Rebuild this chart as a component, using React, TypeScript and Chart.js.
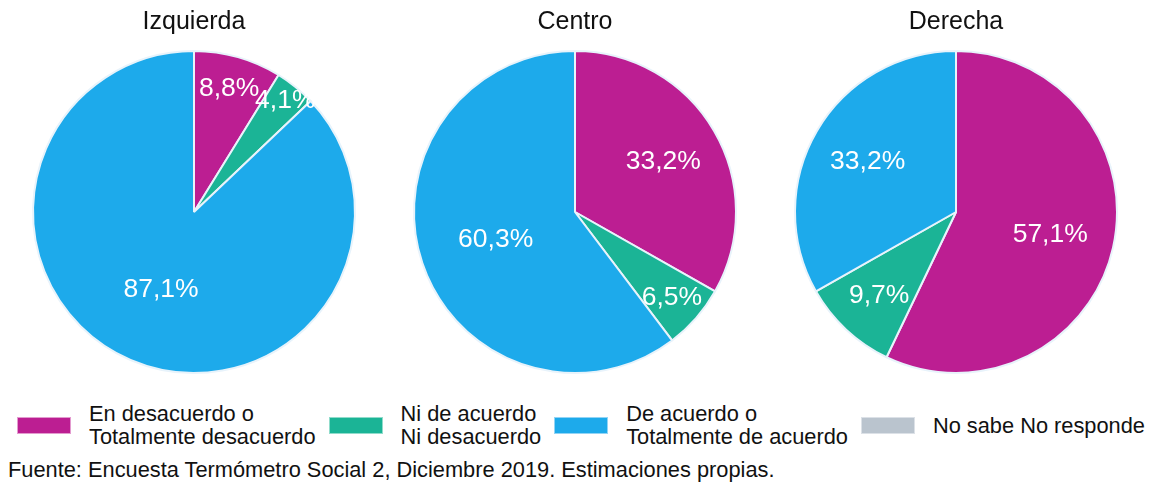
import React, { useEffect, useRef } from "react";
import { Chart, registerables } from "chart.js";

Chart.register(...registerables);

// ---- data ----
const groups = ["Izquierda", "Centro", "Derecha"];
const categoryLines: string[][] = [
  ["En desacuerdo o", "Totalmente desacuerdo"],
  ["Ni de acuerdo", "Ni desacuerdo"],
  ["De acuerdo o", "Totalmente de acuerdo"],
  ["No sabe No responde"],
];
const izquierdaValues = [8.8, 4.1, 87.1, 0];
const centroValues = [33.2, 6.5, 60.3, 0];
const derechaValues = [57.1, 9.7, 33.2, 0];
const seriesValues = [izquierdaValues, centroValues, derechaValues];
const colors = ["#BC1E92", "#1BB496", "#1DAAEB", "#BAC4CE"];
const legendBorders = ["#E39BCF", "#90DCCB", "#92D4F5", "#DCE1E7"];
const sourceText =
  "Fuente: Encuesta Termómetro Social 2, Diciembre 2019. Estimaciones propias.";

const FONT = '"Liberation Sans", Arial, sans-serif';

function radialFraction(p: number): number {
  if (p < 0.05) return 0.9;
  if (p < 0.09) return 0.8;
  if (p < 0.15) return 0.7;
  if (p < 0.45) return 0.635;
  if (p < 0.58) return 0.6;
  return 0.52;
}

const sliceLabels = {
  id: "sliceLabels",
  afterDatasetsDraw(chart: any) {
    const ctx = chart.ctx as CanvasRenderingContext2D;
    const meta = chart.getDatasetMeta(0);
    const data = chart.data.datasets[0].data as number[];
    const total = data.reduce((a, b) => a + b, 0);
    ctx.save();
    ctx.font = `26.5px ${FONT}`;
    ctx.fillStyle = "#ffffff";
    ctx.textAlign = "center";
    ctx.textBaseline = "middle";
    meta.data.forEach((arc: any, i: number) => {
      const v = data[i];
      if (!v) return;
      const { x, y, startAngle, endAngle, outerRadius } = arc.getProps(
        ["x", "y", "startAngle", "endAngle", "outerRadius"],
        true
      );
      const mid = (startAngle + endAngle) / 2;
      const r = outerRadius * radialFraction(v / total);
      const txt = v.toFixed(1).replace(".", ",") + "%";
      ctx.fillText(txt, x + Math.cos(mid) * r, y + Math.sin(mid) * r + 1);
    });
    ctx.restore();
  },
};

function PieCanvas({ title, values, left }: { title: string; values: number[]; left: number }) {
  const ref = useRef<HTMLCanvasElement | null>(null);
  useEffect(() => {
    if (!ref.current) return;
    const chart = new Chart(ref.current, {
      type: "pie",
      data: {
        labels: categoryLines.map((l) => l.join(" ")),
        datasets: [
          {
            data: values,
            backgroundColor: colors,
            borderColor: "#E8F3FB",
            borderWidth: 2,
            radius: 161,
          } as any,
        ],
      },
      options: {
        responsive: false,
        animation: false,
        devicePixelRatio: 1,
        layout: { padding: { top: 0, bottom: 12, left: 0, right: 0 } },
        plugins: {
          legend: { display: false },
          tooltip: { enabled: false },
          title: {
            display: true,
            text: title,
            color: "#111111",
            font: { family: FONT, size: 25, weight: "normal" as any, lineHeight: 1.2 },
            padding: { top: 7, bottom: 14 },
          },
        },
      },
      plugins: [sliceLabels],
    });
    return () => chart.destroy();
  }, [title, values]);
  return (
    <canvas
      ref={ref}
      width={380}
      height={385}
      style={{ position: "absolute", left, top: 0, width: 380, height: 385 }}
    />
  );
}

export default function App() {
  const lefts = [4, 385, 766];
  return (
    <div
      style={{
        position: "absolute",
        left: 0,
        top: 0,
        width: 1151,
        height: 487,
        background: "#ffffff",
        overflow: "hidden",
        fontFamily: FONT,
      }}
    >
      {groups.map((g, i) => (
        <PieCanvas key={g} title={g} values={seriesValues[i]} left={lefts[i]} />
      ))}
      <div
        style={{
          position: "absolute",
          left: 17,
          top: 402,
          display: "flex",
          alignItems: "center",
          gap: 13,
          fontSize: 21.8,
          lineHeight: "23px",
          color: "#111111",
          whiteSpace: "nowrap",
        }}
      >
        {categoryLines.map((lines, i) => (
          <div key={i} style={{ display: "flex", alignItems: "center", gap: 18 }}>
            <div
              style={{
                width: 52,
                height: 15,
                background: colors[i],
                border: `1px solid ${legendBorders[i]}`,
              }}
            />
            <div>
              {lines.map((l, j) => (
                <div key={j}>{l}</div>
              ))}
            </div>
          </div>
        ))}
      </div>
      <div
        style={{
          position: "absolute",
          left: 8,
          top: 458,
          fontSize: 21.8,
          lineHeight: "24px",
          color: "#111111",
          whiteSpace: "nowrap",
        }}
      >
        {sourceText}
      </div>
    </div>
  );
}
